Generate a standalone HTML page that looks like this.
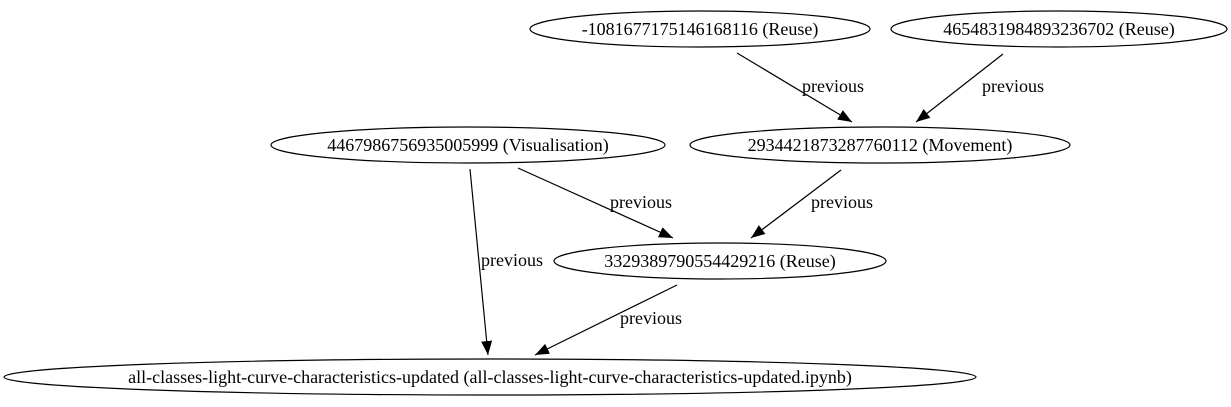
<!DOCTYPE html>
<html>
<head>
<meta charset="utf-8">
<style>
  html, body { margin: 0; padding: 0; background: #fff; }
  svg { display: block; }
  text { font-family: "Liberation Serif", "Times New Roman", serif; font-size: 18px; fill: #000; }
</style>
</head>
<body>
<svg width="1231" height="407" viewBox="0 0 1231 407" xmlns="http://www.w3.org/2000/svg">
  <defs>
    <marker id="arr" markerWidth="14" markerHeight="11" refX="14" refY="5.5" orient="auto" markerUnits="userSpaceOnUse">
      <polygon points="0,0 14,5.5 0,11" fill="#000"/>
    </marker>
  </defs>

  <!-- Edges -->
  <g>
    <line x1="737" y1="53" x2="852" y2="122" stroke="#000" stroke-width="1.2" marker-end="url(#arr)"/>
    <text x="833" y="92" text-anchor="middle">previous</text>
  </g>
  <g>
    <line x1="1003" y1="54" x2="916" y2="122" stroke="#000" stroke-width="1.2" marker-end="url(#arr)"/>
    <text x="1013" y="92" text-anchor="middle">previous</text>
  </g>
  <g>
    <line x1="518" y1="168" x2="673" y2="238" stroke="#000" stroke-width="1.2" marker-end="url(#arr)"/>
    <text x="641" y="208" text-anchor="middle">previous</text>
  </g>
  <g>
    <line x1="841" y1="170" x2="751" y2="238" stroke="#000" stroke-width="1.2" marker-end="url(#arr)"/>
    <text x="842" y="208" text-anchor="middle">previous</text>
  </g>
  <g>
    <line x1="470" y1="169" x2="488" y2="355" stroke="#000" stroke-width="1.2" marker-end="url(#arr)"/>
    <text x="512" y="266" text-anchor="middle">previous</text>
  </g>
  <g>
    <line x1="677" y1="285" x2="535" y2="355" stroke="#000" stroke-width="1.2" marker-end="url(#arr)"/>
    <text x="651" y="324" text-anchor="middle">previous</text>
  </g>

  <!-- Nodes -->
  <g>
    <ellipse cx="700" cy="29" rx="170" ry="18" fill="none" stroke="#000" stroke-width="1.2"/>
    <text x="700" y="35" text-anchor="middle">-1081677175146168116 (Reuse)</text>
  </g>
  <g>
    <ellipse cx="1059" cy="29" rx="168" ry="18" fill="none" stroke="#000" stroke-width="1.2"/>
    <text x="1059" y="35" text-anchor="middle">4654831984893236702 (Reuse)</text>
  </g>
  <g>
    <ellipse cx="468" cy="145" rx="197" ry="18" fill="none" stroke="#000" stroke-width="1.2"/>
    <text x="468" y="151" text-anchor="middle">4467986756935005999 (Visualisation)</text>
  </g>
  <g>
    <ellipse cx="880" cy="145" rx="190" ry="18" fill="none" stroke="#000" stroke-width="1.2"/>
    <text x="880" y="151" text-anchor="middle">2934421873287760112 (Movement)</text>
  </g>
  <g>
    <ellipse cx="720" cy="261" rx="166" ry="18" fill="none" stroke="#000" stroke-width="1.2"/>
    <text x="720" y="267" text-anchor="middle">3329389790554429216 (Reuse)</text>
  </g>
  <g>
    <ellipse cx="490" cy="377" rx="486" ry="18" fill="none" stroke="#000" stroke-width="1.2"/>
    <text x="490" y="383" text-anchor="middle">all-classes-light-curve-characteristics-updated (all-classes-light-curve-characteristics-updated.ipynb)</text>
  </g>
</svg>
</body>
</html>
